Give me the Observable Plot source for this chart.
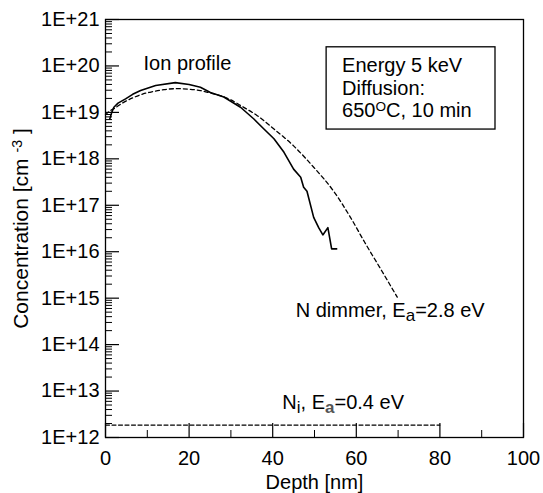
<!DOCTYPE html>
<html>
<head>
<meta charset="utf-8">
<script src="https://cdn.jsdelivr.net/npm/d3@7"></script>
<script src="https://cdn.jsdelivr.net/npm/@observablehq/plot@0.6"></script>
<style>
  html, body { margin: 0; padding: 0; background: #fff; }
  #chart { width: 543px; height: 493px; }
</style>
</head>
<body>
<div id="chart"></div>
<script>
// ---- Data ----
const ionDepth = [1.0, 1.5, 2.0, 3.0, 4.8, 6.5, 8.4, 12, 16.7, 20, 22.7, 25.1, 28.3, 32.3, 35.5, 37.9, 40.3, 42.7, 45.0, 46.7, 47.4, 48.2, 49.8, 51.0, 52.0, 53.2, 54.1, 55.3];
const ionConc  = [7.1e18, 1.0e19, 1.29e19, 1.58e19, 1.95e19, 2.45e19, 2.95e19, 3.8e19, 4.37e19, 3.98e19, 3.47e19, 2.69e19, 2.14e19, 1.29e19, 7.2e18, 4.4e18, 2.7e18, 1.38e18, 6.0e17, 4.0e17, 2.45e17, 2.0e17, 5.5e16, 3.3e16, 2.3e16, 3.3e16, 1.15e16, 1.15e16];

const dimDepth = [0, 1.2, 2.0, 4.0, 6.7, 9.0, 11.5, 14.0, 17, 20, 22.7, 25, 27.5, 30, 32.3, 36.3, 40.3, 45.0, 49.8, 54.6, 58.6, 62, 66, 69.8];
const dimConc  = [8.9e18, 1.1e19, 1.2e19, 1.58e19, 2.09e19, 2.5e19, 2.82e19, 3.1e19, 3.24e19, 3.16e19, 2.95e19, 2.63e19, 2.29e19, 1.86e19, 1.41e19, 8.5e18, 4.4e18, 1.9e18, 6.6e17, 2.0e17, 5.5e16, 1.6e16, 4.0e15, 1.05e15];

const niDepth = [0, 80];
const niConc  = [1.85e12, 1.85e12];

const xMajorTicks = [0, 20, 40, 60, 80, 100];
const xMinorTicks = [10, 30, 50, 70, 90];
const yMajorTicks = [1e12, 1e13, 1e14, 1e15, 1e16, 1e17, 1e18, 1e19, 1e20, 1e21];
const yMinorTicks = [];
for (let e = 12; e < 21; e++) for (let k = 2; k <= 9; k++) yMinorTicks.push(k * Math.pow(10, e));

const ion = ionDepth.map((x, i) => ({x, y: ionConc[i]}));
const dim = dimDepth.map((x, i) => ({x, y: dimConc[i]}));
const ni  = niDepth.map((x, i) => ({x, y: niConc[i]}));

// ---- Layout ----
const W = 543, H = 493, ML = 105, MR = 20, MT = 19, MB = 56;
const PW = W - ML - MR, PH = H - MT - MB;
const XD = [0, 100], YD = [1e12, 1e21];
const FONT = "'Liberation Sans', Arial, Helvetica, sans-serif";
const FS = 20;

// tick lengths (pixels) converted to data units of the scales
const xLen = px => XD[0] + (XD[1] - XD[0]) * px / PW;
const yLen = px => YD[0] * Math.pow(10, Math.log10(YD[1] / YD[0]) * px / PH);

const plot = Plot.plot({
  width: W, height: H,
  marginLeft: ML, marginRight: MR, marginTop: MT, marginBottom: MB,
  style: {fontFamily: FONT, fontSize: FS + "px", background: "white", color: "black"},
  x: {domain: XD},
  y: {type: "log", domain: YD},
  marks: [
    Plot.axisX({ticks: xMajorTicks, tickSize: 0, tickPadding: 13, fontSize: FS, label: null}),
    Plot.axisY({ticks: yMajorTicks, tickSize: 0, tickPadding: 6, fontSize: FS, label: null,
      tickFormat: d => "1E+" + Math.round(Math.log10(d))}),
    // inward ticks
    Plot.ruleY(yMajorTicks, {y: d => d, x1: XD[0], x2: xLen(14), stroke: "black", strokeWidth: 1.2}),
    Plot.ruleY(yMinorTicks, {y: d => d, x1: XD[0], x2: xLen(7), stroke: "black", strokeWidth: 1}),
    Plot.ruleX(xMajorTicks, {x: d => d, y1: YD[0], y2: yLen(14), stroke: "black", strokeWidth: 1.2}),
    Plot.ruleX(xMinorTicks, {x: d => d, y1: YD[0], y2: yLen(7), stroke: "black", strokeWidth: 1}),
    Plot.frame({stroke: "black", strokeWidth: 1.3}),
    // data
    Plot.line(ni,  {x: "x", y: "y", stroke: "black", strokeWidth: 1.2, strokeDasharray: "4,2.5"}),
    Plot.line(dim, {x: "x", y: "y", stroke: "black", strokeWidth: 1.3, strokeDasharray: "4,3", curve: "monotone-x"}),
    Plot.line(ion, {x: "x", y: "y", stroke: "black", strokeWidth: 1.6, curve: "linear"}),
    // annotation box
    Plot.rect([0], {x1: 52.9, x2: 93.3, y1: 4.27e18, y2: 2.52e20, fill: "white", stroke: "black", strokeWidth: 1.3}),
    Plot.text(["Energy 5 keV\nDiffusion:\n650^{O}C, 10 min"], {x: 56.6, y: 3.45e19, textAnchor: "start", lineAnchor: "middle", lineHeight: 1.12, fontSize: FS, fill: "black"}),
    Plot.text(["Ion profile"], {x: 9.1, y: 1.12e20, textAnchor: "start", fontSize: FS, fill: "black"}),
    Plot.text(["N dimmer, E_{a}=2.8 eV"], {x: 45.5, y: 5.5e14, textAnchor: "start", fontSize: FS, fill: "black"}),
    Plot.text(["N_{i}, E~{a}=0.4 eV"], {x: 42.3, y: 5.6e12, textAnchor: "start", fontSize: FS, fill: "black"}),
    // axis titles
    Plot.text(["Depth [nm]"], {frameAnchor: "bottom", textAnchor: "middle", lineAnchor: "middle", dy: 45, fontSize: FS, fill: "black"}),
    Plot.text(["Concentration [cm ^{-3} ]"], {frameAnchor: "left", textAnchor: "middle", lineAnchor: "middle", dx: -84, rotate: -90, fontSize: 21, fill: "black"})
  ]
});

// Rich text: ^{sup}, _{sub}, ~{gray bold sub}
function richify(root) {
  const els = Array.from(root.querySelectorAll("text, tspan"));
  els.forEach(el => {
    if (el.children.length) return;
    const s = el.textContent;
    if (!/[\^_~]\{/.test(s)) return;
    el.textContent = "";
    const re = /([\^_~])\{([^}]*)\}/g;
    let last = 0, m, cur = 0;
    const add = (txt, target, size, special) => {
      if (!txt) return;
      const t = document.createElementNS("http://www.w3.org/2000/svg", "tspan");
      t.textContent = txt;
      const dy = target - cur;
      if (dy !== 0) t.setAttribute("dy", dy);
      cur = target;
      if (size) t.setAttribute("font-size", size);
      if (special) { t.setAttribute("fill", "#555"); t.setAttribute("font-weight", "bold"); }
      el.appendChild(t);
    };
    while ((m = re.exec(s))) {
      add(s.slice(last, m.index), 0, null);
      if (m[1] === "^") add(m[2], -6, "68%");
      else if (m[1] === "_") add(m[2], 4, "85%");
      else add(m[2], 4, "85%", true);
      last = re.lastIndex;
    }
    add(s.slice(last), 0, null);
  });
}
richify(plot);
document.getElementById("chart").appendChild(plot);
</script>
</body>
</html>
